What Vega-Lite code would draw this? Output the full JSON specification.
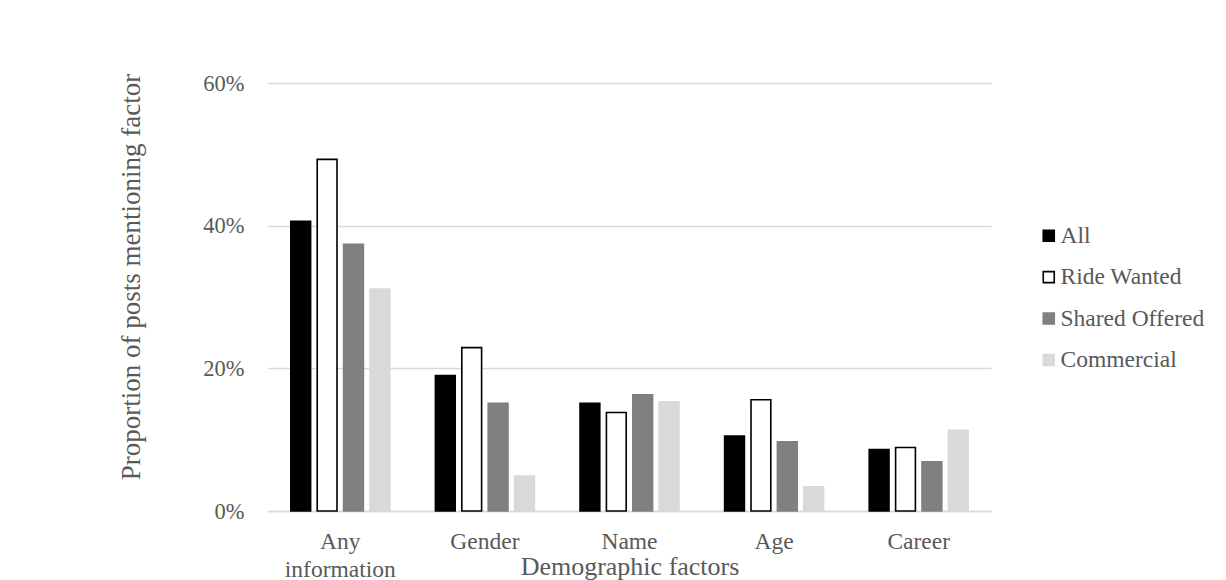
{
  "$schema": "https://vega.github.io/schema/vega-lite/v6.json",
  "autosize": {"type": "none"},
  "padding": {"left": 268, "top": 83, "right": 235, "bottom": 69},
  "width": 723,
  "height": 428,
  "background": "white",
  "data": {
    "values": [
      {"factor": "Any information", "group": "All", "share": 0.406},
      {"factor": "Any information", "group": "Ride Wanted", "share": 0.493},
      {"factor": "Any information", "group": "Shared Offered", "share": 0.374},
      {"factor": "Any information", "group": "Commercial", "share": 0.311},
      {"factor": "Gender", "group": "All", "share": 0.190},
      {"factor": "Gender", "group": "Ride Wanted", "share": 0.229},
      {"factor": "Gender", "group": "Shared Offered", "share": 0.151},
      {"factor": "Gender", "group": "Commercial", "share": 0.049},
      {"factor": "Name", "group": "All", "share": 0.151},
      {"factor": "Name", "group": "Ride Wanted", "share": 0.138},
      {"factor": "Name", "group": "Shared Offered", "share": 0.163},
      {"factor": "Name", "group": "Commercial", "share": 0.153},
      {"factor": "Age", "group": "All", "share": 0.105},
      {"factor": "Age", "group": "Ride Wanted", "share": 0.156},
      {"factor": "Age", "group": "Shared Offered", "share": 0.097},
      {"factor": "Age", "group": "Commercial", "share": 0.034},
      {"factor": "Career", "group": "All", "share": 0.086},
      {"factor": "Career", "group": "Ride Wanted", "share": 0.089},
      {"factor": "Career", "group": "Shared Offered", "share": 0.069},
      {"factor": "Career", "group": "Commercial", "share": 0.113}
    ]
  },
  "mark": {"type": "bar", "strokeWidth": 1.6},
  "encoding": {
    "x": {
      "field": "factor",
      "type": "nominal",
      "sort": ["Any information", "Gender", "Name", "Age", "Career"],
      "scale": {"paddingInner": 0.27, "paddingOuter": 0.135},
      "axis": {
        "title": "Demographic factors",
        "titleFontSize": 26,
        "titleY": 63,
        "titleBaseline": "alphabetic",
        "labelAngle": 0,
        "labelFontSize": 23.5,
        "labelPadding": 18,
        "labelLineHeight": 28,
        "labelExpr": "datum.label == 'Any information' ? ['Any', 'information'] : datum.label",
        "ticks": false,
        "domainColor": "#d9d9d9",
        "domainWidth": 1.5
      }
    },
    "xOffset": {
      "field": "group",
      "type": "nominal",
      "sort": ["All", "Ride Wanted", "Shared Offered", "Commercial"],
      "scale": {"paddingInner": 0.25, "paddingOuter": 0.125}
    },
    "y": {
      "field": "share",
      "type": "quantitative",
      "scale": {"domain": [0, 0.6]},
      "axis": {
        "title": "Proportion of posts mentioning factor",
        "titleFontSize": 27,
        "titleX": -128.7,
        "titleY": 193.5,
        "titleBaseline": "alphabetic",
        "titleAngle": -90,
        "values": [0, 0.2, 0.4, 0.6],
        "format": ".0%",
        "labelFontSize": 22.5,
        "labelPadding": 24,
        "ticks": false,
        "domain": false,
        "gridColor": "#d9d9d9",
        "gridWidth": 1.5
      }
    },
    "fill": {
      "field": "group",
      "type": "nominal",
      "sort": ["All", "Ride Wanted", "Shared Offered", "Commercial"],
      "scale": {
        "domain": ["All", "Ride Wanted", "Shared Offered", "Commercial"],
        "range": ["#000000", "#ffffff", "#808080", "#d9d9d9"]
      },
      "legend": {
        "title": null,
        "orient": "none",
        "legendX": 769,
        "legendY": 141,
        "padding": 0,
        "symbolType": "square",
        "symbolSize": 121,
        "symbolStrokeWidth": 1.6,
        "labelFontSize": 23.5,
        "labelOffset": 0,
        "rowPadding": 16.4
      }
    },
    "stroke": {
      "field": "group",
      "type": "nominal",
      "sort": ["All", "Ride Wanted", "Shared Offered", "Commercial"],
      "scale": {
        "domain": ["All", "Ride Wanted", "Shared Offered", "Commercial"],
        "range": ["#000000", "#000000", "#808080", "#d9d9d9"]
      },
      "legend": {
        "title": null,
        "orient": "none",
        "legendX": 769,
        "legendY": 141,
        "padding": 0,
        "symbolType": "square",
        "symbolSize": 121,
        "symbolStrokeWidth": 1.6,
        "labelFontSize": 23.5,
        "labelOffset": 0,
        "rowPadding": 16.4
      }
    }
  },
  "config": {
    "font": "Liberation Serif",
    "view": {"stroke": null},
    "axis": {
      "labelColor": "#595959",
      "titleColor": "#595959",
      "labelFont": "Liberation Serif",
      "titleFont": "Liberation Serif",
      "titleFontWeight": "normal"
    },
    "legend": {
      "labelColor": "#595959",
      "labelFont": "Liberation Serif"
    }
  }
}
